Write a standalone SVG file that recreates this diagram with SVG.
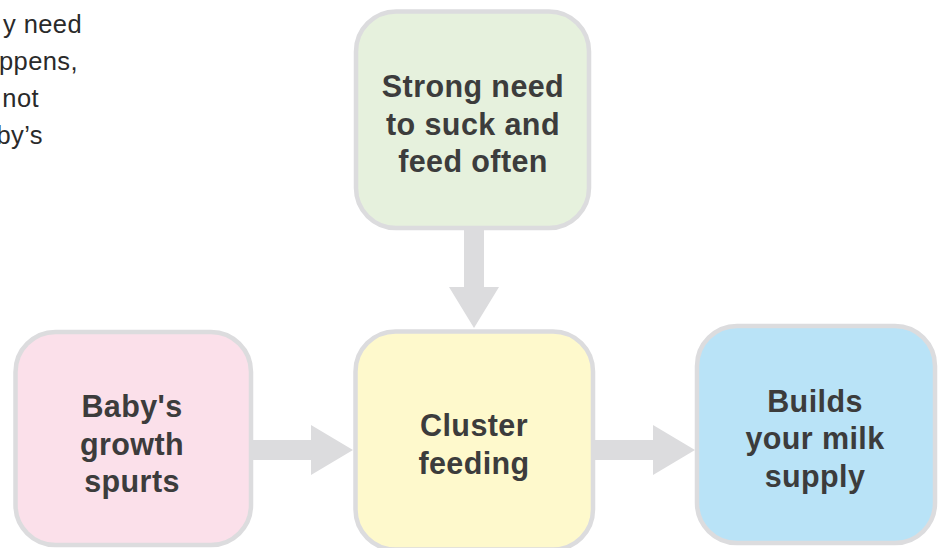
<svg xmlns="http://www.w3.org/2000/svg" width="938" height="548" viewBox="0 0 938 548">
<defs>
<style>
.box{stroke:#dcdcde;stroke-width:4.5}
.lbl{font-family:"Liberation Sans",Arial,Helvetica,sans-serif;font-weight:bold;font-size:30.5px;letter-spacing:0.4px;fill:#3c3c3c;text-anchor:middle}
.note{font-family:"Liberation Sans",Arial,Helvetica,sans-serif;font-size:25.5px;letter-spacing:0.4px;fill:#2a2a2a;text-anchor:end}
.arr{fill:#dcdcde}
</style>
</defs>
<rect width="938" height="548" fill="#ffffff"/>
<g id="note">
<text class="note" x="82" y="33">y need</text>
<text class="note" x="78" y="70">ppens,</text>
<text class="note" x="39" y="107">not</text>
<text class="note" x="43" y="144">by’s</text>
</g>
<g id="connectors">
<polygon class="arr" points="253,440 311,440 311,425 353,450 311,475 311,460 253,460"/>
<polygon class="arr" points="595,440 653,440 653,425 695,450 653,475 653,460 595,460"/>
<polygon class="arr" points="464,230 484,230 484,287 499,287 474,328 449,287 464,287"/>
</g>
<g id="node-strong-need">
<rect class="box" x="356" y="11.5" width="233" height="216.5" rx="40" fill="#e6f1dd"/>
<text class="lbl" x="473" y="97">Strong need</text>
<text class="lbl" x="473" y="135">to suck and</text>
<text class="lbl" x="473" y="172">feed often</text>
</g>
<g id="node-growth-spurts">
<rect class="box" x="15.5" y="332" width="235.5" height="213" rx="40" fill="#fbe0ea"/>
<text class="lbl" x="132" y="417">Baby's</text>
<text class="lbl" x="132" y="454.5">growth</text>
<text class="lbl" x="132" y="492">spurts</text>
</g>
<g id="node-cluster-feeding">
<rect class="box" x="355.5" y="331.5" width="237.5" height="218" rx="40" fill="#fef9cc"/>
<text class="lbl" x="474" y="436">Cluster</text>
<text class="lbl" x="474" y="474">feeding</text>
</g>
<g id="node-milk-supply">
<rect class="box" x="697" y="326" width="238" height="217" rx="40" fill="#b9e3f7"/>
<text class="lbl" x="815" y="412">Builds</text>
<text class="lbl" x="815" y="449">your milk</text>
<text class="lbl" x="815" y="487">supply</text>
</g>
</svg>
